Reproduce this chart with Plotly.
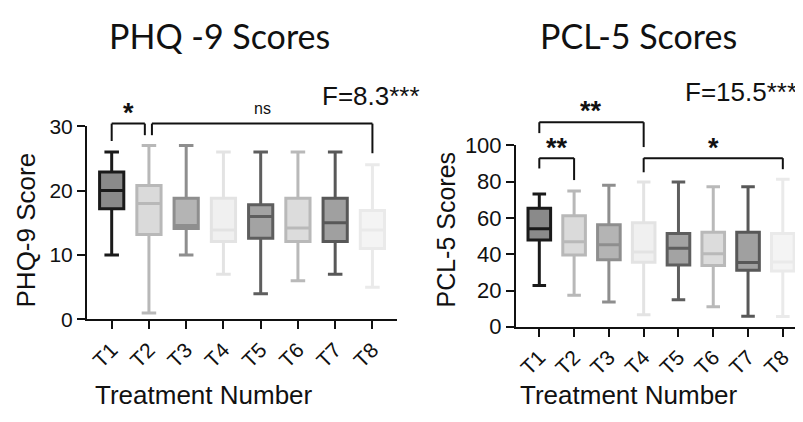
import plotly.graph_objects as go

# ---------------- data ----------------
categories = ["T1", "T2", "T3", "T4", "T5", "T6", "T7", "T8"]

phq_low = [10, 1, 10, 7, 4, 6, 7, 5]
phq_q1 = [17.2, 13.2, 14.1, 12.1, 12.6, 12.1, 12.1, 11.0]
phq_med = [20.0, 18.0, 14.6, 13.9, 16.0, 14.2, 15.0, 13.9]
phq_q3 = [22.9, 20.8, 18.8, 18.8, 17.8, 18.8, 18.8, 16.9]
phq_high = [26, 27, 27, 26, 26, 26, 26, 24]

pcl_low = [22.7, 17.4, 13.7, 6.6, 14.9, 11.0, 5.8, 5.7]
pcl_q1 = [47.9, 39.6, 36.9, 35.6, 34.1, 33.8, 31.2, 30.8]
pcl_med = [54.1, 46.9, 45.2, 41.2, 43.3, 40.3, 35.5, 35.7]
pcl_q3 = [65.4, 61.2, 56.2, 57.3, 51.4, 52.1, 52.1, 51.4]
pcl_high = [73.2, 74.9, 78.1, 79.9, 79.9, 77.2, 77.2, 81.4]

phq_ticks = [0, 10, 20, 30]
pcl_ticks = [0, 20, 40, 60, 80, 100]

# ---------------- style ----------------
fills = ["#8a8a8a", "#dadada", "#b4b4b4", "#f0f0f0", "#a3a3a3", "#dcdcdc", "#a0a0a0", "#f4f4f4"]
lines = ["#1a1a1a", "#b8b8b8", "#8e8e8e", "#e3e3e3", "#5e5e5e", "#b9b9b9", "#585858", "#eaeaea"]
OFF = 8                      # page body margin
W, H = 803 - OFF, 422 - OFF  # figure size that fits the window
FONT = "Liberation Sans, Arial, sans-serif"
TFONT = "Lato, Calibri, sans-serif"
PHQ_MAX, PCL_MAX = 30, 100

def fx(X):  # window pixel -> paper x
    return (X - OFF) / W

def fy(Y):  # window pixel -> paper y
    return 1 - (Y - OFF) / H

fig = go.Figure()

def add_boxes(low, q1, med, q3, high, xa, ya):
    for i, c in enumerate(categories):
        fig.add_trace(go.Box(
            x=[c], lowerfence=[low[i]], q1=[q1[i]], median=[med[i]], q3=[q3[i]],
            upperfence=[high[i]], fillcolor=fills[i],
            line=dict(color=lines[i], width=3), width=0.65, whiskerwidth=0.6,
            boxpoints=False, showlegend=False, hoverinfo="skip",
            xaxis=xa, yaxis=ya))

add_boxes(phq_low, phq_q1, phq_med, phq_q3, phq_high, "x", "y")
add_boxes(pcl_low, pcl_q1, pcl_med, pcl_q3, pcl_high, "x2", "y2")

ax_common = dict(showline=True, linewidth=2, linecolor="#111", ticks="outside",
                 ticklen=8, tickwidth=2, tickcolor="#111", showgrid=False,
                 zeroline=False)

def tf(size):
    return dict(family=FONT, size=size, color="#111")

fig.update_layout(
    width=W, height=H, margin=dict(l=0, r=0, t=0, b=0),
    paper_bgcolor="white", plot_bgcolor="white",
    xaxis=dict(domain=[fx(87), fx(397)], type="category", categoryorder="array",
               categoryarray=categories, range=[-0.663, 7.66], tickangle=-45,
               anchor="y", tickfont=tf(21), **ax_common),
    yaxis=dict(domain=[fy(326.7), fy(121)], range=[0, PHQ_MAX],
               tickvals=phq_ticks, anchor="x", tickfont=tf(21), **ax_common),
    xaxis2=dict(domain=[fx(516), 1.0], type="category", categoryorder="array",
                categoryarray=categories, range=[-0.67, 7.58], tickangle=-45,
                anchor="y2", tickfont=tf(21), **ax_common),
    yaxis2=dict(domain=[fy(334.5), fy(141.5)], range=[0, PCL_MAX],
                tickvals=pcl_ticks, anchor="x2", tickfont=tf(22), **ax_common),
)

# significance brackets: (x0, x1, left-leg bottom, top, right-leg bottom)
phq_brackets = [(0, 0.89, 27.7, 30.4, 28.6), (1.08, 7, 28.6, 30.4, 25.8)]
pcl_brackets = [(0, 3, 106.8, 112.8, 99.1), (0, 1, 87.3, 93.0, 80.9), (3, 7, 85.2, 93.0, 86.9)]

def add_brackets(brs, xa, ya, ymax):
    for x0, x1, yl, yt, yr in brs:
        for (a, b, c, d) in [(x0, yl, x0, yt), (x0, yt, x1, yt), (x1, yt, x1, yr)]:
            fig.add_shape(type="line", xref=xa, yref=ya + " domain",
                          x0=a, y0=b / ymax, x1=c, y1=d / ymax,
                          line=dict(color="#111", width=2))

add_brackets(phq_brackets, "x", "y", PHQ_MAX)
add_brackets(pcl_brackets, "x2", "y2", PCL_MAX)

# significance labels: (x, y, text, size)
phq_sig = [(0.45, 32.0, "<b>*</b>", 27), (4.05, 32.8, "ns", 16)]
pcl_sig = [(1.5, 118.8, "<b>**</b>", 27), (0.5, 98.5, "<b>**</b>", 27), (5.0, 98.5, "<b>*</b>", 27)]
for sig, xa, ya, ymax in [(phq_sig, "x", "y", PHQ_MAX), (pcl_sig, "x2", "y2", PCL_MAX)]:
    for x, y, t, s in sig:
        fig.add_annotation(x=x, y=y / ymax, xref=xa, yref=ya + " domain", text=t,
                           showarrow=False, font=tf(s), xanchor="center", yanchor="middle")

def ptxt(x, y, text, size, family=FONT, angle=0, xanchor="center"):
    fig.add_annotation(x=fx(x), y=fy(y), xref="paper", yref="paper", text=text,
                       showarrow=False, textangle=angle, xanchor=xanchor, yanchor="middle",
                       font=dict(family=family, size=size, color="#111"))

ptxt(219, 24, "PHQ -9 Scores", 34, TFONT)
ptxt(638, 24, "PCL-5 Scores", 34, TFONT)
ptxt(26, 232, "PHQ-9 Score", 26, angle=-90)
ptxt(446, 231, "PCL-5 Scores", 25, angle=-90)
ptxt(203.5, 407, "Treatment Number", 26)
ptxt(629, 407, "Treatment Number", 26)
ptxt(422, 89, "F=8.3***", 26, xanchor="right")
ptxt(799, 85, "F=15.5***", 26, xanchor="right")

fig.write_html("out.html")
